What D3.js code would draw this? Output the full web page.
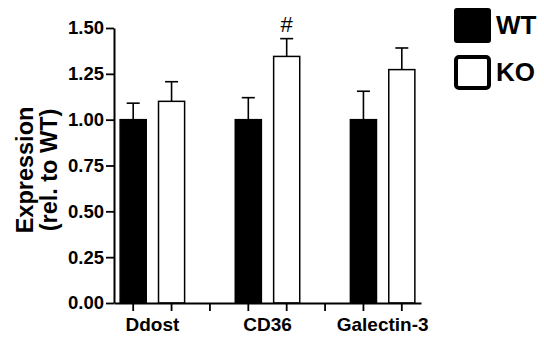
<!DOCTYPE html>
<html>
<head>
<meta charset="utf-8">
<script src="https://cdn.jsdelivr.net/npm/d3@7"></script>
<style>
  body { margin: 0; background: #fff; }
  text { font-family: Arial, "Liberation Sans", sans-serif; }
</style>
</head>
<body>
<svg id="chart" width="544" height="338"></svg>
<script>
// data
var categories = ['Ddost', 'CD36', 'Galectin-3'];
var groups = ['WT', 'KO'];
var wtMean = [1.00, 1.00, 1.00];
var wtErr = [0.09, 0.12, 0.155];
var koMean = [1.10, 1.345, 1.273];
var koErr = [0.107, 0.097, 0.118];
var marks = ['', '#', ''];
var yTicks = [0, 0.25, 0.5, 0.75, 1.0, 1.25, 1.5];

var margin = {top: 28, left: 114};
var width = 421 - margin.left;
var height = 303 - margin.top;

// one slot per bar plus an empty slot between groups
var slots = [];
var bars = [];
categories.forEach(function(c, i) {
    slots.push(c + '|WT');
    slots.push(c + '|KO');
    if (i < categories.length - 1) slots.push(c + '|gap');
    bars.push({cat: c, grp: 'WT', v: wtMean[i], e: wtErr[i], mark: ''});
    bars.push({cat: c, grp: 'KO', v: koMean[i], e: koErr[i], mark: marks[i]});
});

var x = d3.scaleBand().domain(slots).range([0, width]).paddingInner(0.32).paddingOuter(0.16);
var y = d3.scaleLinear().domain([0, 1.5]).range([height, 0]);

var svg = d3.select('#chart');
var g = svg.append('g')
    .attr('transform', 'translate(' + margin.left + ',' + margin.top + ')');

// bars
g.selectAll('rect.bar')
    .data(bars)
    .enter()
    .append('rect')
    .attr('class', 'bar')
    .attr('x', function(d) { return x(d.cat + '|' + d.grp); })
    .attr('y', function(d) { return y(d.v); })
    .attr('width', x.bandwidth())
    .attr('height', function(d) { return height - y(d.v); })
    .attr('fill', function(d) { return d.grp === 'WT' ? '#000' : '#fff'; })
    .attr('stroke', '#000')
    .attr('stroke-width', 1.5);

// error bars (upper only)
var cx = function(d) { return x(d.cat + '|' + d.grp) + x.bandwidth() / 2; };
var err = g.selectAll('g.err')
    .data(bars)
    .enter()
    .append('g')
    .attr('class', 'err')
    .attr('stroke', '#000')
    .attr('stroke-width', 1.6);
err.append('line')
    .attr('x1', cx).attr('x2', cx)
    .attr('y1', function(d) { return y(d.v); })
    .attr('y2', function(d) { return y(d.v + d.e); });
err.append('line')
    .attr('x1', function(d) { return cx(d) - 6.5; })
    .attr('x2', function(d) { return cx(d) + 6.5; })
    .attr('y1', function(d) { return y(d.v + d.e); })
    .attr('y2', function(d) { return y(d.v + d.e); });

// significance marks
g.selectAll('text.mark')
    .data(bars.filter(function(d) { return d.mark; }))
    .enter()
    .append('text')
    .attr('class', 'mark')
    .attr('x', cx)
    .attr('y', function(d) { return y(d.v + d.e) - 7; })
    .attr('text-anchor', 'middle')
    .attr('font-size', 22)
    .text(function(d) { return d.mark; });

// y axis
var yAxis = g.append('g')
    .call(d3.axisLeft(y).tickValues(yTicks).tickFormat(d3.format('.2f')).tickSize(8).tickSizeOuter(0));
yAxis.select('.domain').attr('stroke-width', 2);
yAxis.selectAll('.tick line').attr('stroke-width', 1.8);
yAxis.selectAll('.tick text')
    .attr('x', -10)
    .attr('font-size', 18.5)
    .attr('font-weight', 'bold')
    .attr('fill', '#000');

// x axis with a tick at every slot
var xAxis = g.append('g')
    .attr('transform', 'translate(0,' + height + ')')
    .call(d3.axisBottom(x).tickSize(8).tickSizeOuter(0).tickFormat(''));
xAxis.select('.domain').attr('stroke-width', 2);
xAxis.selectAll('.tick line').attr('stroke-width', 1.8);

// category labels centred under each pair
g.selectAll('text.cat')
    .data(categories)
    .enter()
    .append('text')
    .attr('class', 'cat')
    .attr('x', function(c) { return (x(c + '|WT') + x(c + '|KO') + x.bandwidth()) / 2; })
    .attr('y', height + 28)
    .attr('text-anchor', 'middle')
    .attr('font-size', 19)
    .attr('font-weight', 'bold')
    .text(function(c) { return c; });

// y title
var yTitle = svg.append('text')
    .attr('transform', 'translate(33,170) rotate(-90)')
    .attr('text-anchor', 'middle')
    .attr('font-size', 23.5)
    .attr('font-weight', 'bold');
yTitle.append('tspan').attr('x', 0).attr('dy', 0).text('Expression');
yTitle.append('tspan').attr('x', 0).attr('dy', 24).text('(rel. to WT)');

// legend
var legend = svg.append('g').attr('transform', 'translate(454,8)');
var item = legend.selectAll('g')
    .data(groups)
    .enter()
    .append('g')
    .attr('transform', function(d, i) { return 'translate(0,' + i * 47 + ')'; });
item.append('rect')
    .attr('x', function(d) { return d === 'WT' ? 0 : 2; })
    .attr('y', function(d) { return d === 'WT' ? 0 : 2; })
    .attr('width', function(d) { return d === 'WT' ? 37 : 33; })
    .attr('height', function(d) { return d === 'WT' ? 35 : 31; })
    .attr('rx', 3)
    .attr('fill', function(d) { return d === 'WT' ? '#000' : '#fff'; })
    .attr('stroke', '#000')
    .attr('stroke-width', function(d) { return d === 'WT' ? 0 : 4; });
item.append('text')
    .attr('x', 42)
    .attr('y', 26)
    .attr('font-size', 26)
    .attr('font-weight', 'bold')
    .text(function(d) { return d; });
</script>
</body>
</html>
